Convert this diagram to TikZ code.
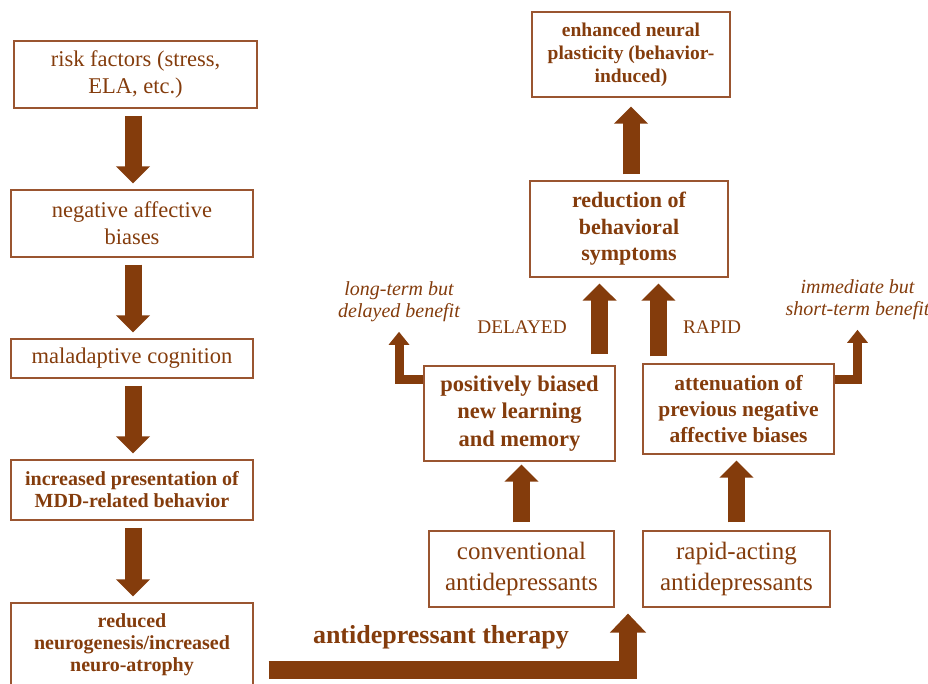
\documentclass[tikz,border=0pt]{standalone}
\usepackage{fontspec}
\setmainfont{Liberation Serif}
\usetikzlibrary{arrows.meta,positioning}
\definecolor{brn}{HTML}{843C0C}
\definecolor{edge}{HTML}{9A5530}

\begin{document}
\begin{tikzpicture}[x=1pt, y=-1pt,
      box/.style={draw=edge, line width=1.1pt, text=brn, align=center, inner sep=0pt, font=\fontsize{22.5}{27}\selectfont},
      bbox/.style={box, font=\fontsize{20}{22}\selectfont\bfseries},
      rbox/.style={box, font=\fontsize{22}{26.5}\selectfont\bfseries},
      fat/.style={-{Triangle[width=33pt,length=17pt]}, line width=17pt, color=brn},
      slim/.style={-{Triangle[width=20pt,length=13pt]}, line width=9pt, color=brn},
      note/.style={text=brn, align=center, inner sep=0pt, font=\fontsize{20}{22}\selectfont\itshape},
      lbl/.style={text=brn, inner sep=0pt, font=\fontsize{19.3}{22}\selectfont}]
    \useasboundingbox (0,0) rectangle (928,683);
    % left column
    \node[box, minimum width=243pt, minimum height=67pt] (risk) at (135.5,74.5) {risk factors (stress,\\ ELA, etc.)};
    \node[box, minimum width=242pt, minimum height=67pt] (neg) at (132,223.5) {negative affective\\ biases};
    \node[box, minimum width=242pt, minimum height=39pt] (mal) at (132,358.5) {maladaptive cognition};
    \node[bbox, minimum width=242pt, minimum height=60pt] (incr) at (132,490) {increased presentation of\\ MDD-related behavior};
    \node[bbox, minimum width=242pt, minimum height=84pt] (atro) at (132,645) {reduced\\ neurogenesis/increased\\ neuro-atrophy};
    \foreach \a/\b in {risk/neg, neg/mal, mal/incr, incr/atro}
      \draw[fat, shorten <=7pt, shorten >=6pt] (\a.south -| 133,0) -- (\b.north -| 133,0);
    % right side
    \node[rbox, minimum width=198pt, minimum height=85pt, font=\fontsize{19.5}{23}\selectfont\bfseries] (plast) at (631,54.5) {enhanced neural\\ plasticity (behavior-\\ induced)};
    \node[rbox, minimum width=198pt, minimum height=96pt] (symp) at (629,229) {reduction of\\ behavioral\\ symptoms};
    \node[rbox, minimum width=191pt, minimum height=95pt, font=\fontsize{22.5}{27.5}\selectfont\bfseries] (pos) at (519.5,413.5) {positively biased\\ new learning\\ and memory};
    \node[rbox, minimum width=191pt, minimum height=90pt, font=\fontsize{21.5}{26}\selectfont\bfseries] (att) at (738.5,409) {attenuation of\\ previous negative\\ affective biases};
    \node[box, minimum width=185pt, minimum height=76pt, font=\fontsize{25}{31}\selectfont] (conv) at (521.5,569) {conventional\\ antidepressants};
    \node[box, minimum width=187pt, minimum height=76pt, font=\fontsize{25}{31}\selectfont] (rapid) at (736.5,569) {rapid-acting\\ antidepressants};
    \node[note] (lt) at (399,301.5) {long-term but\\ delayed benefit};
    \node[note] (st) at (857.5,299.5) {immediate but\\ short-term benefit};
    \node[lbl] (dl) at (522,327) {DELAYED};
    \node[lbl] (rp) at (712,327) {RAPID};
    \node[text=brn, inner sep=0pt, font=\fontsize{26}{30}\selectfont\bfseries] (ther) at (441,637) {antidepressant therapy};
    \coordinate (turn) at (628,669.5);

    \draw[fat, shorten <=6pt, shorten >=9pt] (plast.south |- symp.north) -- (plast.south);
    \draw[fat, shorten <=11pt, shorten >=6pt] ([xshift=-16pt]pos.north east) -- ([xshift=-16pt]pos.north east |- symp.south);
    \draw[fat, shorten <=7pt, shorten >=6pt] ([xshift=16pt]att.north west) -- ([xshift=16pt]att.north west |- symp.south);
    \draw[fat, shorten <=8pt, shorten >=3pt] (conv.north) -- (conv.north |- pos.south);
    \draw[fat, shorten <=8pt, shorten >=6pt] (rapid.north) -- (rapid.north |- att.south);
    \draw[slim, shorten >=10pt] ([yshift=-14.5pt]pos.north west) -| (lt.south);
    \draw[slim, shorten >=10pt] ([yshift=-16pt]att.north east) -| (st.south);
    \draw[fat, -{Triangle[width=35pt,length=19pt]}, line width=18pt, shorten <=15pt, shorten >=6pt] (atro.east |- turn) -- (turn) -- (turn |- conv.south);
  \end{tikzpicture}
\end{document}
